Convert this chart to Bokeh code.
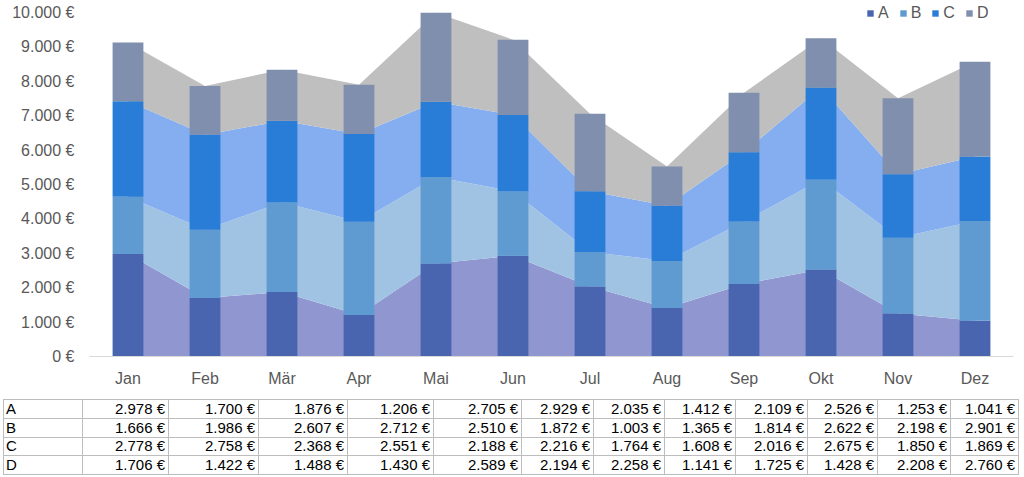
from bokeh.plotting import figure
from bokeh.models import ColumnDataSource, FactorRange, Range1d, FixedTicker, CustomJSTickFormatter, Legend, Div
from bokeh.layouts import column
from bokeh.embed import file_html
from bokeh.resources import INLINE

months = ["Jan", "Feb", "Mär", "Apr", "Mai", "Jun", "Jul", "Aug", "Sep", "Okt", "Nov", "Dez"]
series = ["A", "B", "C", "D"]
A = [2978, 1700, 1876, 1206, 2705, 2929, 2035, 1412, 2109, 2526, 1253, 1041]
B = [1666, 1986, 2607, 2712, 2510, 1872, 1003, 1365, 1814, 2622, 2198, 2901]
C = [2778, 2758, 2368, 2551, 2188, 2216, 1764, 1608, 2016, 2675, 1850, 1869]
D = [1706, 1422, 1488, 1430, 2589, 2194, 2258, 1141, 1725, 1428, 2208, 2760]
y_ticks = list(range(0, 10001, 1000))

bar_colors = ["#4965B0", "#5F9BD0", "#2A7DD7", "#7F8FAD"]
area_colors = ["#9096CF", "#A0C3E3", "#84AEF0", "#BFBFBF"]
FONT = "Liberation Sans"
GREY = "#595959"

source = ColumnDataSource(data=dict(month=months, A=A, B=B, C=C, D=D))

FH = 356
p = figure(frame_width=924, frame_height=FH, x_range=FactorRange(*months, range_padding=0),
           y_range=Range1d(0, 10000 * FH / 344), output_backend="svg",
           toolbar_location=None, min_border_left=89, min_border_right=7,
           min_border_top=0, min_border_bottom=43)
p.outline_line_color = None
p.xgrid.visible = False
p.ygrid.visible = False

p.varea_stack(stackers=series, x="month", source=source, color=area_colors)
bars = p.vbar_stack(series, x="month", width=0.4, source=source, color=bar_colors, line_color=None)

p.yaxis.ticker = FixedTicker(ticks=y_ticks)
p.yaxis.formatter = CustomJSTickFormatter(code="""
return tick.toFixed(0).replace(/\\B(?=(\\d{3})+(?!\\d))/g, ".") + " €";
""")
p.yaxis.axis_line_color = None
p.yaxis.major_tick_out = 0
p.yaxis.major_tick_in = 0
p.yaxis.minor_tick_out = 0
p.yaxis.minor_tick_in = 0
p.yaxis.major_label_standoff = 15
p.yaxis.major_label_text_font = FONT
p.yaxis.major_label_text_font_size = "16px"
p.yaxis.major_label_text_color = GREY

p.xaxis.axis_line_color = "#D9D9D9"
p.xaxis.major_tick_out = 0
p.xaxis.major_tick_in = 0
p.xaxis.major_label_standoff = 13
p.xaxis.major_label_text_font = FONT
p.xaxis.major_label_text_font_size = "16px"
p.xaxis.major_label_text_color = GREY

legend = Legend(items=[(s, [r]) for s, r in zip(series, bars)], orientation="horizontal",
                location=(777, 334), glyph_width=8, glyph_height=8, label_standoff=4,
                spacing=10, padding=0, margin=0, label_text_font=FONT,
                label_text_font_size="16px", label_text_color=GREY,
                background_fill_alpha=0, border_line_alpha=0, label_height=8, label_width=0)
p.add_layout(legend, "center")

# data table below the chart
col_widths = [79, 86, 90, 89, 86, 88, 72, 71, 71, 72, 70, 73, 68]
row_heights = [18.75, 18.75, 18.75, 18.75]

def euro(v):
    return f"{v:,}".replace(",", ".") + " €"

cell = ("border:1px solid #BDBDBD;padding:0 3px 0 2px;white-space:nowrap;overflow:hidden;"
        "font-family:'Liberation Sans';font-size:15px;color:#000;line-height:14px;")
html = ["<table style='border-collapse:collapse;table-layout:fixed;width:%dpx;margin:0 0 0 3px;'>" % sum(col_widths)]
html.append("<colgroup>" + "".join("<col style='width:%dpx'>" % w for w in col_widths) + "</colgroup>")
for name, vals, h in zip(series, [A, B, C, D], row_heights):
    html.append("<tr style='height:%spx'>" % h)
    html.append("<td style=\"%stext-align:left;\">%s</td>" % (cell, name))
    for v in vals:
        html.append("<td style=\"%stext-align:right;\">%s</td>" % (cell, euro(v)))
    html.append("</tr>")
html.append("</table>")

table = Div(text="".join(html), width=1020, height=77, margin=(0, 0, 0, 0),
            styles={"padding": "0px", "margin": "0px"})

layout = column(p, table, spacing=0)
open("out.html", "w").write(file_html(layout, INLINE))
